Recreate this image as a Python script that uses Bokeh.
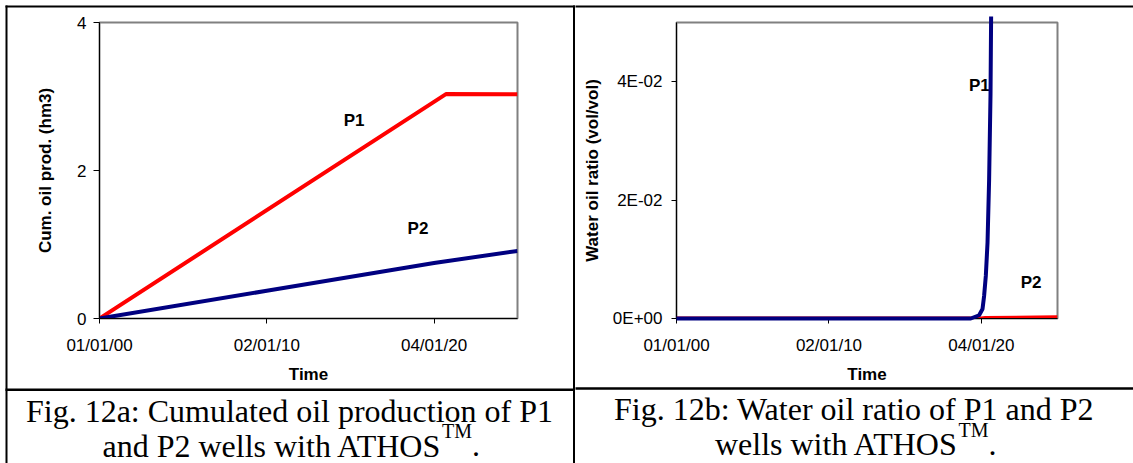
from bokeh.plotting import figure
from bokeh.models import Range1d, FixedTicker, Label
from bokeh.layouts import row
from bokeh.core.properties import value
from bokeh.embed import file_html
from bokeh.resources import INLINE

# ---------------- data (days since 01/01/2000) ----------------
x_tick_days = [0, 3654, 7308]
x_tick_labels = ["01/01/00", "02/01/10", "04/01/20"]
x_end_day = 9131

cum_p1_days = [0, 7576, 9131]
cum_p1 = [0.0, 3.035, 3.03]
cum_p2_days = [0, 3654, 7308, 9131]
cum_p2 = [0.0, 0.375, 0.75, 0.913]
cum_ticks = [0, 2, 4]
cum_tick_labels = ["0", "2", "4"]

wor_p1_days = [0, 7053, 7252, 7334, 7372, 7413, 7454, 7492, 7526, 7540]
wor_p1 = [0.0, 0.0, 0.00055, 0.0016, 0.0038, 0.0072, 0.0128, 0.0234, 0.038, 0.051]
wor_p2_days = [0, 7300, 7400, 9131]
wor_p2 = [0.0, 0.0, 0.0001, 0.0002]
wor_ticks = [0, 0.02, 0.04]
wor_tick_labels = ["0E+00", "2E-02", "4E-02"]

RED = "#FF0000"
BLUE = "#000080"
SANS = "Liberation Sans"
SERIF = "Liberation Serif"
H = 463


def make_fig(W, L, R, T, B, ymax, yticks, ylabels, ylab, y_tick_out, y_stand, y_lab_stand):
    p = figure(width=W, height=H, x_range=Range1d(0, x_end_day), y_range=Range1d(0, ymax),
               output_backend="svg", toolbar_location=None,
               min_border_left=L, min_border_right=R, min_border_top=T, min_border_bottom=B)
    # pixel ("canvas") ranges for decorations drawn outside the frame
    p.extra_x_ranges = {"cv": Range1d(L, W - R)}
    p.extra_y_ranges = {"cv": Range1d(H - B, T)}
    p.xgrid.visible = False
    p.ygrid.visible = False
    p.background_fill_color = "white"
    p.border_fill_color = "white"
    p.outline_line_color = "#808080"
    p.outline_line_width = 2

    xa = p.xaxis[0]
    xa.ticker = FixedTicker(ticks=x_tick_days)
    xa.major_label_overrides = {d: s for d, s in zip(x_tick_days, x_tick_labels)}
    xa.axis_label = "Time"
    ya = p.yaxis[0]
    ya.ticker = FixedTicker(ticks=yticks)
    ya.major_label_overrides = {d: s for d, s in zip(yticks, ylabels)}
    ya.axis_label = ylab
    for ax in (xa, ya):
        ax.axis_line_color = "black"
        ax.axis_line_width = 1
        ax.major_tick_line_color = "black"
        ax.major_tick_in = 0
        ax.minor_tick_line_color = None
        ax.major_label_text_font = SANS
        ax.major_label_text_font_size = "17px"
        ax.major_label_text_color = "black"
        ax.axis_label_text_font = SANS
        ax.axis_label_text_font_size = "17px"
        ax.axis_label_text_font_style = "bold"
        ax.axis_label_text_color = "black"
    xa.major_tick_out = 5
    xa.major_label_standoff = 12
    xa.axis_label_standoff = 7
    ya.major_tick_out = y_tick_out
    ya.major_label_standoff = y_stand
    ya.axis_label_standoff = y_lab_stand
    return p


def boxes(p, lefts, rights, tops, bottoms):
    p.quad(left=lefts, right=rights, top=tops, bottom=bottoms,
           x_range_name="cv", y_range_name="cv",
           fill_color="black", line_color=None, level="overlay")


def texts(p, xs, ys, txt, size, align):
    p.text(x=xs, y=ys, text=txt, x_range_name="cv", y_range_name="cv",
           text_font=value(SERIF), text_font_size=value(size), text_color="black",
           text_align=align, text_baseline="alphabetic", level="overlay")


def plabel(p, x, y, text):
    p.add_layout(Label(x=x, y=y, x_units="canvas", y_units="canvas", text=text,
                       text_font=SANS, text_font_size="17px", text_font_style="bold",
                       text_align="center", text_baseline="middle", text_color="black"))


# ---------------- left panel ----------------
WL = 575
pL = make_fig(WL, 99, WL - 517, 22, H - 318, 4, cum_ticks, cum_tick_labels,
              "Cum. oil prod. (hm3)", 6, 7, 19)
pL.line(cum_p1_days, cum_p1, line_color=RED, line_width=4, line_join="round")
pL.line(cum_p2_days, cum_p2, line_color=BLUE, line_width=4, line_join="round")
plabel(pL, 353.6, 119.7, "P1")
plabel(pL, 417.5, 228.3, "P2")

boxes(pL, [5, 5, 572.5, 5], [WL, 7, 574.5, WL], [5, 5, 5, 388], [7, H, H, 390.5])
texts(pL, [289], [410], ["Fig. 12a: Cumulated oil production of P1"], "32px", "center")
texts(pL, [441.5], [445], ["and P2 wells with ATHOS"], "32px", "right")
texts(pL, [441.5], [430.5], ["TM"], "20px", "left")
texts(pL, [471.5], [445], ["."], "32px", "left")

# ---------------- right panel ----------------
WR = 1133 - WL
OFF = WL
pR = make_fig(WR, 676 - OFF, WR - (1057 - OFF), 22, H - 319, 0.05, wor_ticks, wor_tick_labels,
              "Water oil ratio (vol/vol)", 5, 9, 8)
pR.line(wor_p2_days, wor_p2, line_color=RED, line_width=4, line_join="round")
rb = pR.line(wor_p1_days, wor_p1, line_color=BLUE, line_width=4, line_join="round")
rb.level = "overlay"
plabel(pR, 978.8 - OFF, 85, "P1")
plabel(pR, 1030.6 - OFF, 281.7, "P2")

boxes(pR, [0, 0], [WR, WR], [5, 388], [7, 390.5])
texts(pR, [853.5 - OFF], [410], ["Fig. 12b: Water oil ratio of P1 and P2"], "32px", "center")
texts(pR, [958 - OFF], [445], ["wells with ATHOS"], "32px", "right")
texts(pR, [958 - OFF], [430.5], ["TM"], "20px", "left")
texts(pR, [988 - OFF], [445], ["."], "32px", "left")

layout = row(pL, pR, spacing=0)
open("out.html", "w").write(file_html(layout, INLINE))
